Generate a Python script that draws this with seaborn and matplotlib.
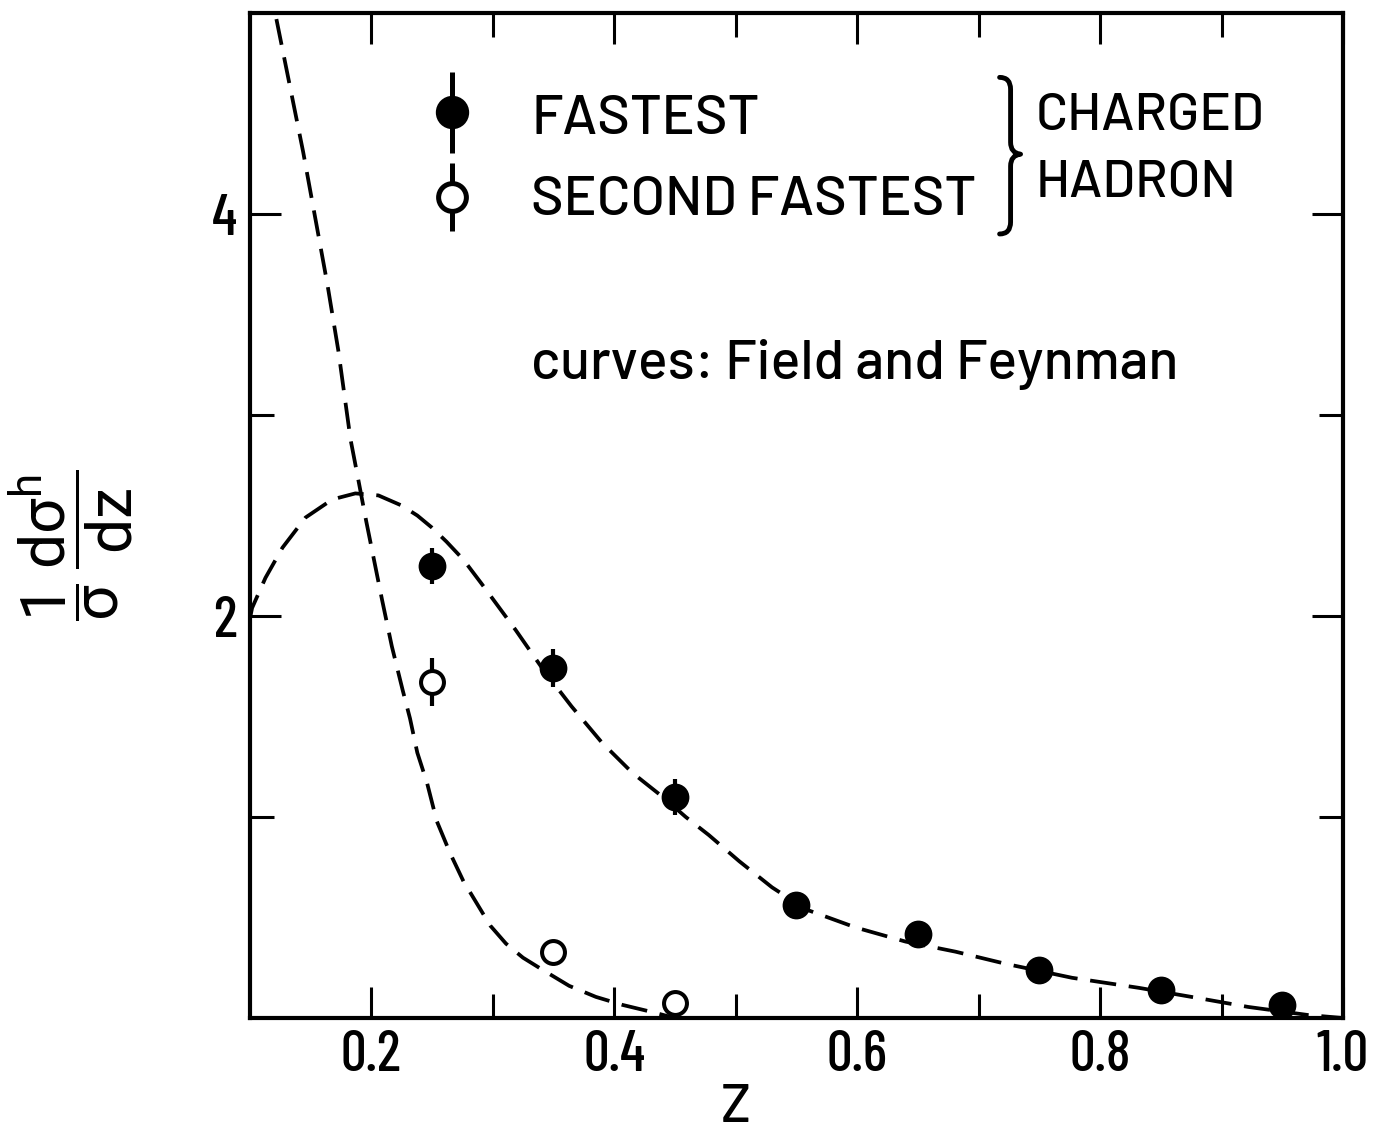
import matplotlib
matplotlib.use("Agg")
import matplotlib.pyplot as plt
from matplotlib.path import Path
from matplotlib.patches import PathPatch
from matplotlib.ticker import FixedLocator
import pandas as pd
import seaborn as sns

# ---------------- data ----------------
z_points = [0.25, 0.35, 0.45, 0.55, 0.65, 0.75, 0.85, 0.95]
fastest = [2.25, 1.74, 1.10, 0.56, 0.42, 0.24, 0.14, 0.065]
fastest_err = [0.09, 0.095, 0.09, 0.04, 0.04, 0.03, 0.03, 0.02]

z_second = [0.25, 0.35, 0.45]
second = [1.67, 0.33, 0.075]
second_err = [0.12, 0.04, 0.03]

# Field & Feynman curves
curve1_z = [0.100, 0.102, 0.113, 0.127, 0.146, 0.168, 0.187, 0.206, 0.225, 0.238,
            0.250, 0.262, 0.276, 0.291, 0.319, 0.342, 0.365, 0.390, 0.415, 0.440,
            0.459, 0.478, 0.503, 0.530, 0.558, 0.599, 0.640, 0.681, 0.722, 0.777,
            0.832, 0.880, 0.922, 0.971, 1.000]
curve1_y = [1.98, 2.04, 2.19, 2.34, 2.49, 2.58, 2.61, 2.60, 2.55, 2.50,
            2.44, 2.37, 2.28, 2.16, 1.93, 1.73, 1.55, 1.37, 1.22, 1.10,
            1.00, 0.91, 0.78, 0.65, 0.54, 0.45, 0.38, 0.33, 0.27, 0.20,
            0.15, 0.10, 0.055, 0.015, 0.0]

curve2_z = [0.122, 0.133, 0.144, 0.154, 0.164, 0.173, 0.183, 0.190, 0.196, 0.203,
            0.209, 0.217, 0.226, 0.232, 0.238, 0.246, 0.254, 0.265, 0.276, 0.287,
            0.298, 0.311, 0.325, 0.341, 0.363, 0.385, 0.407, 0.431, 0.450]
curve2_y = [4.97, 4.64, 4.31, 3.98, 3.65, 3.32, 2.88, 2.66, 2.47, 2.26,
            2.08, 1.85, 1.63, 1.49, 1.32, 1.17, 0.98, 0.82, 0.68, 0.57,
            0.46, 0.37, 0.30, 0.24, 0.16, 0.105, 0.065, 0.03, 0.0]

x_major = [0.2, 0.4, 0.6, 0.8, 1.0]
x_labels = ["0.2", "0.4", "0.6", "0.8", "1.0"]
x_minor = [0.3, 0.5, 0.7, 0.9]
y_major = [2, 4]
y_labels = ["2", "4"]
y_minor = [1, 3]

legend_labels = ["FASTEST", "SECOND FASTEST"]
group_label = ["CHARGED", "HADRON"]
note = "curves: Field and Feynman"

# ---------------- style ----------------
sns.set_style("ticks")
plt.rcParams["font.family"] = ["Barlow", "DejaVu Sans"]
plt.rcParams["text.color"] = "black"
plt.rcParams["axes.labelcolor"] = "black"
plt.rcParams["xtick.color"] = "black"
plt.rcParams["ytick.color"] = "black"
plt.rcParams["mathtext.fontset"] = "custom"
plt.rcParams["mathtext.rm"] = "Roboto"
plt.rcParams["mathtext.it"] = "Roboto"
plt.rcParams["mathtext.bf"] = "Roboto:bold"
plt.rcParams["mathtext.default"] = "rm"

fig = plt.figure(figsize=(13.94, 11.34), dpi=100)
ax = fig.add_axes([0.1791, 0.1023, 0.9634 - 0.1791, 0.9885 - 0.1023])

dash = (0, (7.0, 3.4))
c1 = pd.DataFrame({"z": curve1_z, "y": curve1_y})
c2 = pd.DataFrame({"z": curve2_z, "y": curve2_y})
sns.lineplot(data=c1, x="z", y="y", ax=ax, color="black", lw=2.7,
             linestyle=dash, sort=False, estimator=None, zorder=2)
sns.lineplot(data=c2, x="z", y="y", ax=ax, color="black", lw=2.7,
             linestyle=dash, sort=False, estimator=None, zorder=2)

# error bars
ax.errorbar(z_points, fastest, yerr=fastest_err, fmt="none", ecolor="black",
            elinewidth=3, capsize=0, zorder=3)
ax.errorbar(z_second, second, yerr=second_err, fmt="none", ecolor="black",
            elinewidth=3, capsize=0, zorder=3)

d1 = pd.DataFrame({"z": z_points, "y": fastest})
d2 = pd.DataFrame({"z": z_second, "y": second})
sns.scatterplot(data=d1, x="z", y="y", ax=ax, s=18 ** 2, color="black",
                edgecolor="black", linewidth=2, zorder=4, clip_on=False)
sns.scatterplot(data=d2, x="z", y="y", ax=ax, s=16.5 ** 2, facecolor="white",
                edgecolor="black", linewidth=2.9, zorder=4, clip_on=False)

# ---------------- axes ----------------
ax.set_xlim(0.1, 1.0)
ax.set_ylim(0, 5)
ax.xaxis.set_major_locator(FixedLocator(x_major))
ax.xaxis.set_minor_locator(FixedLocator(x_minor))
ax.yaxis.set_major_locator(FixedLocator(y_major))
ax.yaxis.set_minor_locator(FixedLocator(y_minor))
ax.set_xticklabels(x_labels)
ax.set_yticklabels(y_labels)

for s in ax.spines.values():
    s.set_linewidth(3)
    s.set_color("black")
    s.set_visible(True)

ax.tick_params(which="both", direction="in", top=True, right=True,
               labeltop=False, labelright=False, width=2.2, color="black",
               labelcolor="black")
ax.tick_params(which="major", length=22)
ax.tick_params(which="minor", length=17)
ax.tick_params(axis="x", which="major", pad=9)
ax.tick_params(axis="y", which="major", pad=9)
for lab in ax.get_xticklabels() + ax.get_yticklabels():
    lab.set_fontfamily("Barlow Condensed")
    lab.set_fontsize(41)
    lab.set_fontweight("medium")
    lab.set_color("black")

ax.set_xlabel("Z", fontsize=39, fontweight="medium", color="black")
ax.xaxis.label.set_va("baseline")
ax.xaxis.set_label_coords(0.4444, -0.1030)

ax.set_ylabel(r"$\dfrac{1}{\sigma}\,\dfrac{d\sigma^{h}}{dz}$", fontsize=45,
              color="black")
ax.yaxis.label.set_va("center")
ax.yaxis.set_label_coords(-0.163, 0.4706)

# ---------------- legend block ----------------
ax.errorbar([0.2663], [4.506], yerr=[0.2], fmt="none", ecolor="black",
            elinewidth=3.6, capsize=0, zorder=3)
ax.plot([0.2663], [4.506], "o", ms=22, mfc="black", mec="black", mew=2, zorder=4)
ax.errorbar([0.2663], [4.084], yerr=[0.17], fmt="none", ecolor="black",
            elinewidth=3.6, capsize=0, zorder=3)
ax.plot([0.2663], [4.084], "o", ms=20, mfc="white", mec="black", mew=3.6, zorder=4)

tkw = dict(fontsize=40, fontweight="medium", va="baseline", ha="left", color="black")
ax.text(0.332, 4.397, legend_labels[0], **tkw)
ax.text(0.332, 3.995, legend_labels[1], **tkw)
ax.text(0.332, 3.18, note, **tkw)
ax.text(0.747, 4.417, group_label[0], **dict(tkw, fontsize=38))
ax.text(0.747, 4.084, group_label[1], **dict(tkw, fontsize=38))

def px2d(px, py):
    return (0.1 + (px - 249.7) / 1217.0, (1018.0 - py) / 201.5)

brace_px = [(1001, 75), (1012, 75), (1012, 87), (1012, 140), (1012, 151), (1022, 152),
            (1012, 153), (1012, 164), (1012, 220), (1012, 232), (1001, 232)]
codes = [Path.MOVETO, Path.CURVE3, Path.CURVE3, Path.LINETO, Path.CURVE3, Path.CURVE3,
         Path.CURVE3, Path.CURVE3, Path.LINETO, Path.CURVE3, Path.CURVE3]
brace = Path([px2d(*p) for p in brace_px], codes)
ax.add_patch(PathPatch(brace, fill=False, lw=3.5, edgecolor="black",
                       capstyle="round", joinstyle="round"))

fig.savefig("out.png", dpi=100, facecolor="white")
